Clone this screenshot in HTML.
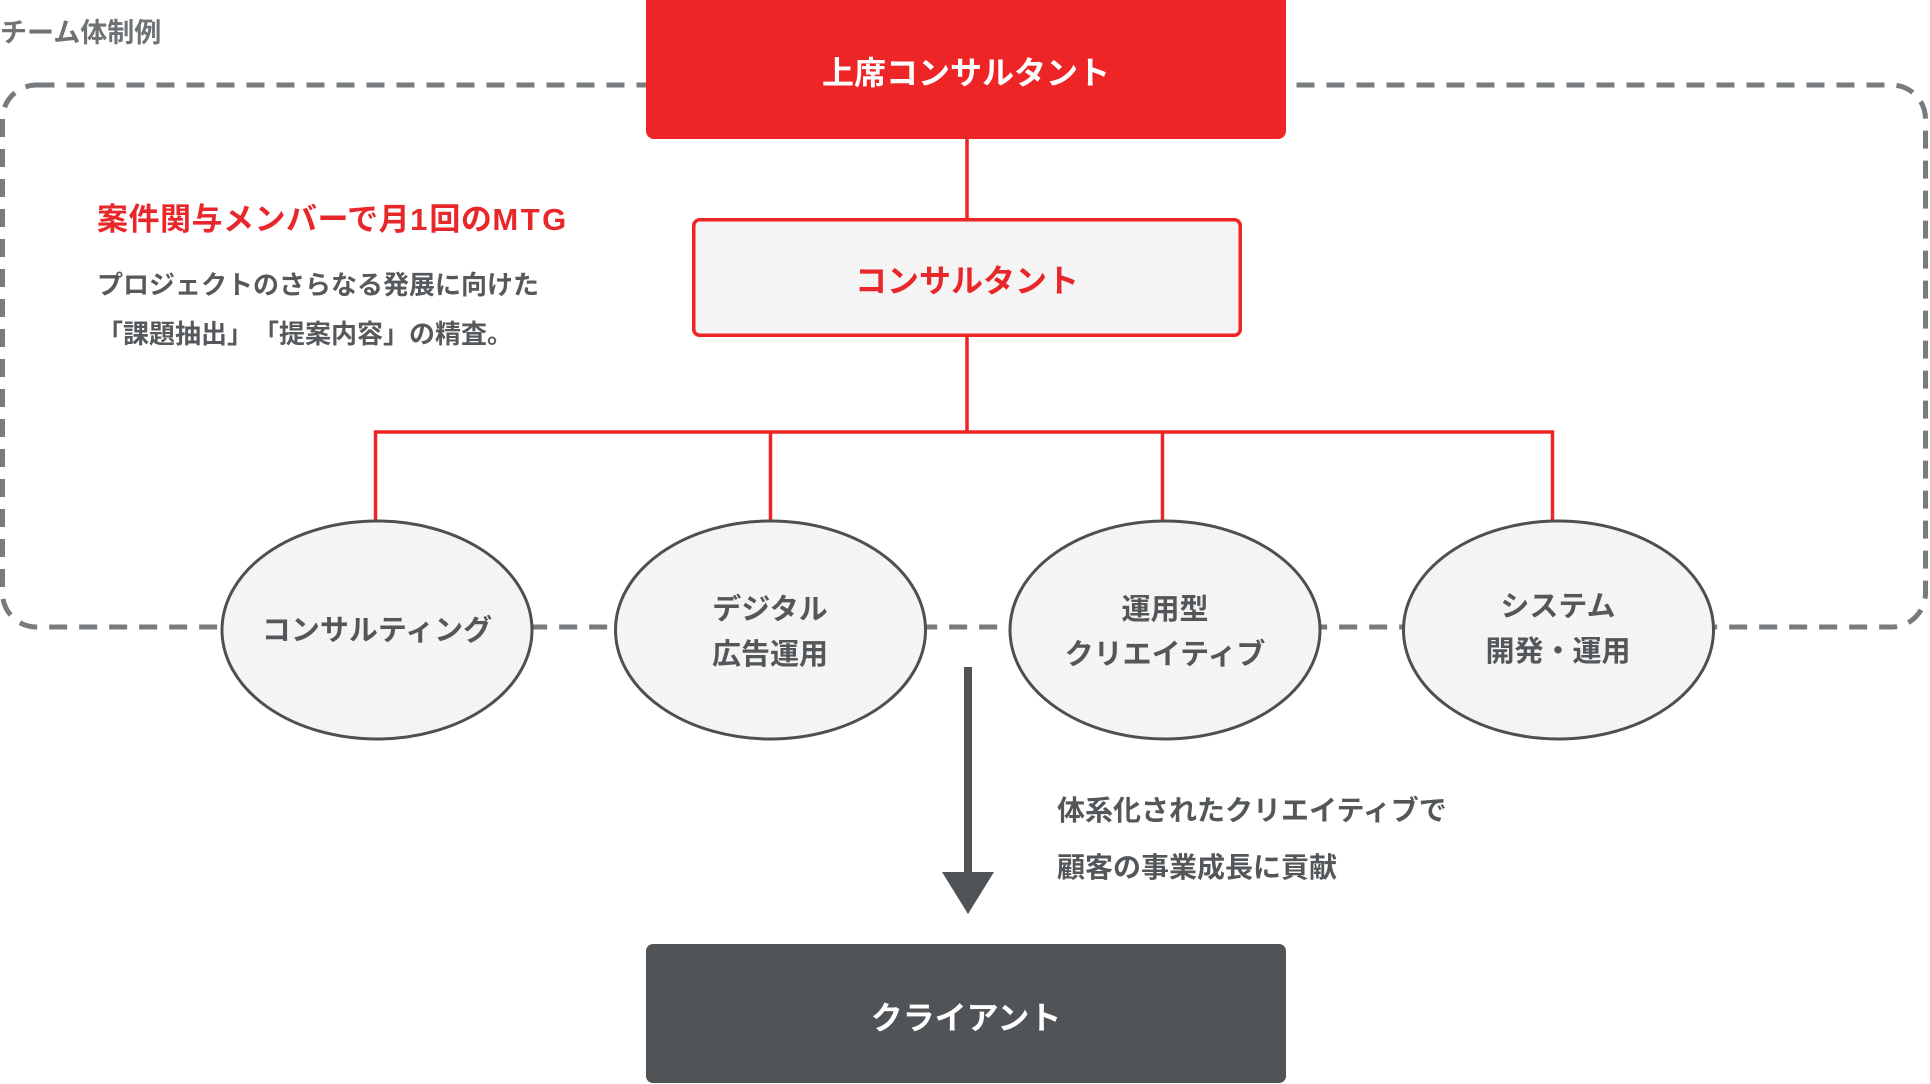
<!DOCTYPE html>
<html lang="ja">
<head>
<meta charset="utf-8">
<style>
  html,body{margin:0;padding:0;}
  body{width:1930px;height:1084px;position:relative;overflow:hidden;background:#ffffff;
       font-family:"Liberation Sans","Noto Sans CJK JP",sans-serif;font-weight:700;}
  .t{position:absolute;white-space:nowrap;font-weight:700;text-spacing-trim:space-all;font-feature-settings:normal;}
  .c{text-align:center;}
</style>
</head>
<body>
<svg width="1930" height="1084" style="position:absolute;left:0;top:0" xmlns="http://www.w3.org/2000/svg">
  <defs>
    <pattern id="dots" width="4" height="4" patternUnits="userSpaceOnUse">
      <rect width="4" height="4" fill="#f5f5f5"/>
      <rect x="1" y="1" width="1" height="1" fill="#e9e9e9"/>
    </pattern>
  </defs>
  <!-- dashed team boundary -->
  <rect x="2.5" y="85" width="1923" height="542" rx="34" ry="34" fill="none" stroke="#777b7e" stroke-width="5" stroke-dasharray="18 12"/>
  <!-- top red box -->
  <rect x="646" y="-10" width="640" height="149" rx="8" ry="8" fill="#ee2527"/>
  <!-- connectors -->
  <g stroke="#ee2527" stroke-width="3.5" fill="none">
    <line x1="967" y1="139" x2="967" y2="220"/>
    <line x1="967" y1="336" x2="967" y2="433"/>
    <polyline points="375.5,524 375.5,432 1552.5,432 1552.5,524"/>
    <line x1="770.5" y1="432" x2="770.5" y2="524"/>
    <line x1="1162.5" y1="432" x2="1162.5" y2="524"/>
  </g>
  <!-- consultant box -->
  <rect x="693.75" y="219.75" width="546.5" height="115.5" rx="6" ry="6" fill="url(#dots)" stroke="#ee2527" stroke-width="3.5"/>
  <!-- ellipses -->
  <g fill="url(#dots)" stroke="#4d5053" stroke-width="3">
    <ellipse cx="377" cy="630" rx="155" ry="109"/>
    <ellipse cx="770.5" cy="630" rx="155" ry="109"/>
    <ellipse cx="1165" cy="630" rx="155" ry="109"/>
    <ellipse cx="1558.5" cy="630" rx="155" ry="109"/>
  </g>
  <!-- arrow -->
  <rect x="964" y="667" width="8" height="210" fill="#4f5356"/>
  <polygon points="942,872 994,872 968,914" fill="#4f5356"/>
  <!-- client box -->
  <rect x="646" y="944" width="640" height="139" rx="7" ry="7" fill="#505457"/>
</svg>

<div class="t" style="left:0;top:13px;font-size:27px;line-height:40px;color:#6e7275;">チーム体制例</div>

<div class="t" style="left:97px;top:200px;font-size:31px;line-height:40px;color:#e8272b;letter-spacing:0.5px;">案件関与メンバーで月<span style="letter-spacing:2px;">1</span>回の<span style="letter-spacing:2.5px;">MTG</span></div>
<div class="t" style="left:97px;top:261px;font-size:26px;line-height:49px;color:#55595c;">プロジェクトのさらなる発展に向けた<br>「課題抽出」&#8203;「提案内容」の精査。</div>

<div class="t c" style="left:646px;width:640px;top:53px;font-size:32px;line-height:40px;color:#ffffff;">上席コンサルタント</div>
<div class="t c" style="left:692px;width:550px;top:261px;font-size:32px;line-height:40px;color:#e8272b;">コンサルタント</div>

<div class="t c" style="left:222px;width:310px;top:611px;font-size:29px;line-height:40px;color:#53575a;">コンサルティング</div>
<div class="t c" style="left:615px;width:310px;top:588px;font-size:29px;line-height:45px;color:#53575a;">デジタル<br>広告運用</div>
<div class="t c" style="left:1010px;width:310px;top:588px;font-size:29px;line-height:45px;color:#53575a;">運用型<br>クリエイティブ</div>
<div class="t c" style="left:1403px;width:310px;top:585px;font-size:29px;line-height:45px;color:#53575a;">システム<br>開発・運用</div>

<div class="t" style="left:1057px;top:782px;font-size:28px;line-height:57px;color:#53575a;">体系化されたクリエイティブで<br>顧客の事業成長に貢献</div>

<div class="t c" style="left:646px;width:640px;top:998px;font-size:32px;line-height:40px;color:#ffffff;">クライアント</div>
</body>
</html>
